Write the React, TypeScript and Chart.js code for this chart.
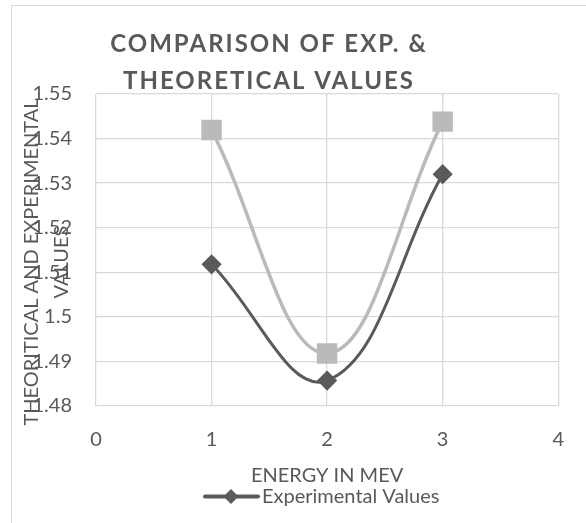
import React, { useEffect, useRef } from "react";
import { Chart, registerables } from "chart.js";

Chart.register(...registerables);

const energies = [1, 2, 3];
const experimentalValues = [1.5118, 1.4857, 1.532];
const theoreticalValues = [1.5419, 1.4918, 1.5438];
const titleLines = ["COMPARISON OF EXP. &", "THEORETICAL VALUES"];
const yTitleLines = ["THEORITICAL AND EXPERIMENTAL", "VALUES"];
const xTitle = "ENERGY IN MEV";
const legendLabel = "Experimental Values";

const TEXT = "#595959";
const EXP_COLOR = "#5a5a5a";
const THEO_COLOR = "#bababa";
const GRID = "#d9d9d9";

const decor = {
  id: "decor",
  beforeDraw(chart: any) {
    const ctx = chart.ctx;
    ctx.save();
    ctx.strokeStyle = "#d9d9d9";
    ctx.lineWidth = 1;
    ctx.strokeRect(11.5, 5.5, 700, 700);
    ctx.restore();
  },
  afterDraw(chart: any) {
    const ctx = chart.ctx;
    const ca = chart.chartArea;
    ctx.save();
    ctx.fillStyle = TEXT;
    // title
    ctx.font = "bold 24px Lato";
    (ctx as any).letterSpacing = "2px";
    ctx.textAlign = "center";
    ctx.textBaseline = "middle";
    ctx.fillText(titleLines[0], 269, 44);
    ctx.fillText(titleLines[1], 269, 81);
    (ctx as any).letterSpacing = "0px";
    // x title
    ctx.font = "20px Lato";
    ctx.fillText(xTitle, (ca.left + ca.right) / 2, 476);
    // y title
    ctx.save();
    ctx.translate(32, 262);
    ctx.rotate(-Math.PI / 2);
    ctx.fillText(yTitleLines[0], 0, 0);
    ctx.restore();
    ctx.save();
    ctx.translate(62, 262);
    ctx.rotate(-Math.PI / 2);
    ctx.fillText(yTitleLines[1], 0, 0);
    ctx.restore();
    // legend
    ctx.strokeStyle = EXP_COLOR;
    ctx.lineWidth = 4;
    ctx.lineCap = "round";
    ctx.beginPath();
    ctx.moveTo(205, 496.5);
    ctx.lineTo(258, 496.5);
    ctx.stroke();
    ctx.beginPath();
    ctx.moveTo(231, 489);
    ctx.lineTo(238.5, 496.5);
    ctx.lineTo(231, 504);
    ctx.lineTo(223.5, 496.5);
    ctx.closePath();
    ctx.fillStyle = EXP_COLOR;
    ctx.fill();
    ctx.fillStyle = TEXT;
    ctx.textAlign = "left";
    ctx.fillText(legendLabel, 262, 497);
    ctx.restore();
  },
};

export default function App() {
  const ref = useRef<HTMLCanvasElement>(null);
  useEffect(() => {
    if (!ref.current) return;
    const chart = new Chart(ref.current, {
      type: "line",
      data: {
        datasets: [
          {
            label: legendLabel,
            data: energies.map((x, i) => ({ x, y: experimentalValues[i] })),
            borderColor: EXP_COLOR,
            backgroundColor: EXP_COLOR,
            borderWidth: 3,
            pointStyle: "rectRot",
            pointRadius: 8,
            tension: 0.4,
          },
          {
            label: "Theoretical Values",
            data: energies.map((x, i) => ({ x, y: theoreticalValues[i] })),
            borderColor: THEO_COLOR,
            backgroundColor: THEO_COLOR,
            borderWidth: 3.5,
            pointStyle: "rect",
            pointRadius: 12,
            tension: 0.4,
          },
        ],
      },
      options: {
        animation: false,
        responsive: false,
        maintainAspectRatio: false,
        layout: { padding: { top: 94, right: 23, left: 0, bottom: 0 } },
        plugins: { legend: { display: false }, title: { display: false }, tooltip: { enabled: false } },
        scales: {
          x: {
            type: "linear",
            min: 0,
            max: 4,
            ticks: { stepSize: 1, color: TEXT, font: { family: "Lato", size: 20 }, padding: 22 },
            grid: { color: GRID, drawTicks: false, lineWidth: 1.3 },
            border: { display: false },
            afterFit(scale: any) {
              scale.height = 117;
            },
          },
          y: {
            min: 1.48,
            max: 1.55,
            ticks: {
              stepSize: 0.01,
              color: TEXT,
              font: { family: "Lato", size: 20 },
              padding: 24,
              callback: (v: any) => String(parseFloat(Number(v).toFixed(2))),
            },
            grid: { color: GRID, drawTicks: false, lineWidth: 1.3 },
            border: { display: false },
            afterFit(scale: any) {
              scale.width = 96;
            },
          },
        },
      },
      plugins: [decor],
    });
    return () => chart.destroy();
  }, []);
  return (
    <div style={{ position: "fixed", left: 0, top: 0, width: 586, height: 523, background: "#fff" }}>
      <canvas ref={ref} width={586} height={523} style={{ width: 586, height: 523 }} />
    </div>
  );
}
